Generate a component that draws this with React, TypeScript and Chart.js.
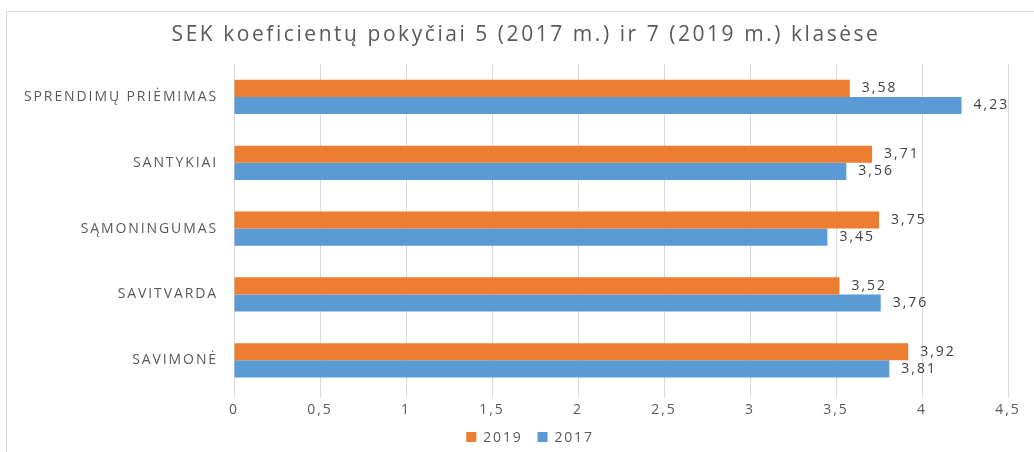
import React, { useEffect, useRef } from "react";
import { Chart, registerables } from "chart.js";

Chart.register(...registerables);

const categories = ["SPRENDIMŲ PRIĖMIMAS", "SANTYKIAI", "SĄMONINGUMAS", "SAVITVARDA", "SAVIMONĖ"];
const values2019 = [3.58, 3.71, 3.75, 3.52, 3.92];
const values2017 = [4.23, 3.56, 3.45, 3.76, 3.81];
const seriesNames = ["2019", "2017"];
const xMin = 0;
const xMax = 4.5;
const xStep = 0.5;
const titleText = "SEK koeficientų pokyčiai 5 (2017 m.) ir 7 (2019 m.) klasėse";

const ORANGE = "#ED7D31";
const BLUE = "#5B9BD5";
const TEXT = "#595959";
const FONT = "'Open Sans', 'Noto Sans', sans-serif";

const fmt = (v: number) => String(v).replace(".", ",");

const setSpacing = (ctx: any, s: string) => {
  try { ctx.letterSpacing = s; } catch (e) {}
};

const dataLabels = {
  id: "dataLabels",
  afterDatasetsDraw(chart: any) {
    const ctx = chart.ctx;
    ctx.save();
    ctx.font = `14px ${FONT}`;
    ctx.fillStyle = "#404040";
    ctx.textAlign = "left";
    ctx.textBaseline = "middle";
    setSpacing(ctx, "2px");
    chart.data.datasets.forEach((ds: any, di: number) => {
      const meta = chart.getDatasetMeta(di);
      meta.data.forEach((el: any, i: number) => {
        ctx.fillText(fmt(ds.data[i]), el.x + 12, el.y);
      });
    });
    ctx.restore();
  },
};

const titleAndLegend = {
  id: "titleAndLegend",
  afterDraw(chart: any) {
    const ctx = chart.ctx;
    ctx.save();
    // title
    ctx.font = `21px ${FONT}`;
    ctx.fillStyle = TEXT;
    ctx.textAlign = "center";
    ctx.textBaseline = "middle";
    setSpacing(ctx, "2.55px");
    ctx.fillText(titleText, 526, 35);
    // legend
    ctx.font = `14px ${FONT}`;
    setSpacing(ctx, "1.8px");
    ctx.textAlign = "left";
    const box = 10;
    const gapText = 7;
    const gapItem = 15;
    const items = chart.data.datasets.map((ds: any) => ({
      label: ds.label,
      color: ds.backgroundColor,
      w: ctx.measureText(ds.label).width,
    }));
    let total = 0;
    items.forEach((it: any, i: number) => {
      total += box + gapText + it.w + (i < items.length - 1 ? gapItem : 0);
    });
    let x = 530 - total / 2;
    const y = 437;
    items.forEach((it: any) => {
      ctx.fillStyle = it.color;
      ctx.fillRect(x, y - box / 2, box, box);
      x += box + gapText;
      ctx.fillStyle = TEXT;
      ctx.fillText(it.label, x, y + 1);
      x += it.w + gapItem;
    });
    ctx.restore();
  },
};

const spacing = {
  id: "spacing",
  beforeDraw(chart: any) {
    setSpacing(chart.ctx, "1.9px");
  },
  afterDraw(chart: any) {
    setSpacing(chart.ctx, "0px");
  },
};

export default function App() {
  const ref = useRef<HTMLCanvasElement | null>(null);
  useEffect(() => {
    if (!ref.current) return;
    const chart = new Chart(ref.current, {
      type: "bar",
      data: {
        labels: categories,
        datasets: [
          { label: seriesNames[0], data: values2019, backgroundColor: ORANGE, borderWidth: 0 },
          { label: seriesNames[1], data: values2017, backgroundColor: BLUE, borderWidth: 0 },
        ],
      },
      options: {
        indexAxis: "y",
        animation: false,
        responsive: false,
        maintainAspectRatio: false,
        layout: { padding: { left: 0, right: 26, top: 64, bottom: 30 } },
        datasets: { bar: { categoryPercentage: 0.52, barPercentage: 1 } },
        scales: {
          x: {
            min: xMin,
            max: xMax,
            ticks: {
              stepSize: xStep,
              color: TEXT,
              font: { family: FONT, size: 14 },
              padding: 4,
              callback: (v: any) => fmt(Number(v)),
            },
            grid: { color: "#D9D9D9", tickLength: 4 },
            border: { display: false },
          },
          y: {
            ticks: { color: TEXT, font: { family: FONT, size: 14 }, padding: 16 },
            grid: { display: false, drawTicks: false },
            border: { display: false },
            afterFit: (scale: any) => { scale.width = 234; },
          },
        },
        plugins: {
          title: { display: false },
          legend: { display: false },
          tooltip: { enabled: false },
        },
      },
      plugins: [spacing, dataLabels, titleAndLegend],
    } as any);
    return () => chart.destroy();
  }, []);
  return (
    <div style={{ position: "fixed", left: 0, top: 0, width: 1034, height: 452, background: "#fff", overflow: "hidden" }}>
      <div style={{ position: "absolute", left: 6, top: 11, width: 1040, height: 450, border: "1px solid #D9D9D9" }} />
      <canvas ref={ref} width={1034} height={452} style={{ position: "absolute", left: 0, top: 0, width: 1034, height: 452 }} />
    </div>
  );
}
